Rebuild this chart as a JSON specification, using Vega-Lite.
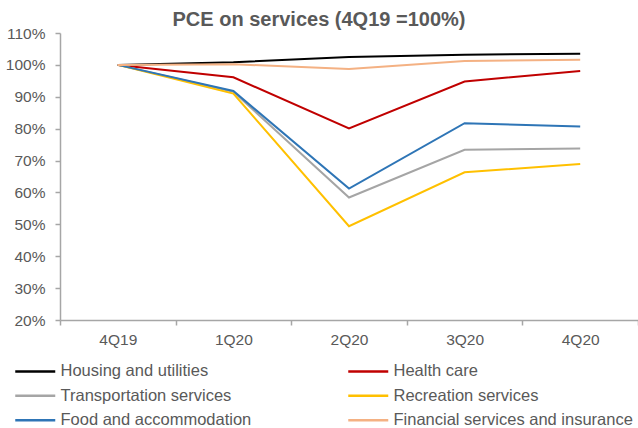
{
  "$schema": "https://vega.github.io/schema/vega-lite/v6.json",
  "width": 578,
  "height": 287,
  "autosize": {"type": "none"},
  "padding": {"left": 60, "top": 33, "right": 0, "bottom": 108},
  "background": "white",
  "title": {
    "text": "PCE on services (4Q19 =100%)",
    "fontSize": 20,
    "fontWeight": "bold",
    "color": "#595959",
    "font": "Liberation Sans",
    "anchor": "middle",
    "dx": -30,
    "dy": 8
  },
  "config": {
    "view": {"stroke": null},
    "font": "Liberation Sans"
  },
  "data": {
    "values": [
      {"q": "4Q19", "s": "Housing and utilities", "v": 100},
      {"q": "1Q20", "s": "Housing and utilities", "v": 100.8},
      {"q": "2Q20", "s": "Housing and utilities", "v": 102.5},
      {"q": "3Q20", "s": "Housing and utilities", "v": 103.2},
      {"q": "4Q20", "s": "Housing and utilities", "v": 103.5},
      {"q": "4Q19", "s": "Health care", "v": 100},
      {"q": "1Q20", "s": "Health care", "v": 96.1},
      {"q": "2Q20", "s": "Health care", "v": 80.1},
      {"q": "3Q20", "s": "Health care", "v": 94.8},
      {"q": "4Q20", "s": "Health care", "v": 98.1},
      {"q": "4Q19", "s": "Transportation services", "v": 100},
      {"q": "1Q20", "s": "Transportation services", "v": 91.6},
      {"q": "2Q20", "s": "Transportation services", "v": 58.4},
      {"q": "3Q20", "s": "Transportation services", "v": 73.4},
      {"q": "4Q20", "s": "Transportation services", "v": 73.8},
      {"q": "4Q19", "s": "Recreation services", "v": 100},
      {"q": "1Q20", "s": "Recreation services", "v": 91.0},
      {"q": "2Q20", "s": "Recreation services", "v": 49.4},
      {"q": "3Q20", "s": "Recreation services", "v": 66.3},
      {"q": "4Q20", "s": "Recreation services", "v": 68.9},
      {"q": "4Q19", "s": "Food and accommodation", "v": 100},
      {"q": "1Q20", "s": "Food and accommodation", "v": 91.8},
      {"q": "2Q20", "s": "Food and accommodation", "v": 61.2},
      {"q": "3Q20", "s": "Food and accommodation", "v": 81.7},
      {"q": "4Q20", "s": "Food and accommodation", "v": 80.7},
      {"q": "4Q19", "s": "Financial services and insurance", "v": 100},
      {"q": "1Q20", "s": "Financial services and insurance", "v": 100.2},
      {"q": "2Q20", "s": "Financial services and insurance", "v": 98.7},
      {"q": "3Q20", "s": "Financial services and insurance", "v": 101.2},
      {"q": "4Q20", "s": "Financial services and insurance", "v": 101.6}
    ]
  },
  "mark": {"type": "line", "strokeWidth": 2},
  "encoding": {
    "x": {
      "field": "q",
      "type": "nominal",
      "sort": ["4Q19", "1Q20", "2Q20", "3Q20", "4Q20"],
      "scale": {"type": "band", "paddingInner": 0, "paddingOuter": 0},
      "bandPosition": 0.5,
      "title": null,
      "axis": {
        "labelAngle": 0,
        "labelFontSize": 15.5,
        "labelColor": "#595959",
        "labelPadding": 7,
        "tickBand": "extent",
        "tickSize": 5,
        "tickColor": "#a6a6a6",
        "domainColor": "#a6a6a6",
        "domainWidth": 1.5,
        "tickWidth": 1.5
      }
    },
    "y": {
      "field": "v",
      "type": "quantitative",
      "scale": {"domain": [20, 110], "nice": false, "zero": false},
      "title": null,
      "axis": {
        "values": [20, 30, 40, 50, 60, 70, 80, 90, 100, 110],
        "labelExpr": "datum.value + '%'",
        "labelFontSize": 15.5,
        "labelColor": "#595959",
        "labelPadding": 10,
        "grid": false,
        "tickSize": 5,
        "tickColor": "#a6a6a6",
        "domainColor": "#a6a6a6",
        "domainWidth": 1.5,
        "tickWidth": 1.5
      }
    },
    "color": {
      "field": "s",
      "type": "nominal",
      "scale": {
        "domain": ["Housing and utilities", "Transportation services", "Food and accommodation", "Health care", "Recreation services", "Financial services and insurance"],
        "range": ["#000000", "#a5a5a5", "#2e75b6", "#c00000", "#ffc000", "#f4b183"]
      },
      "legend": {
        "title": null,
        "orient": "none",
        "legendX": -33,
        "legendY": 330,
        "columns": 2,
        "direction": "vertical",
        "symbolType": "M-4,0H4",
        "symbolSize": 100,
        "symbolStrokeWidth": 2.5,
        "labelFontSize": 16.5,
        "labelColor": "#595959",
        "labelOffset": 17,
        "labelLimit": 400,
        "columnPadding": 91,
        "rowPadding": 7.5
      }
    }
  }
}
